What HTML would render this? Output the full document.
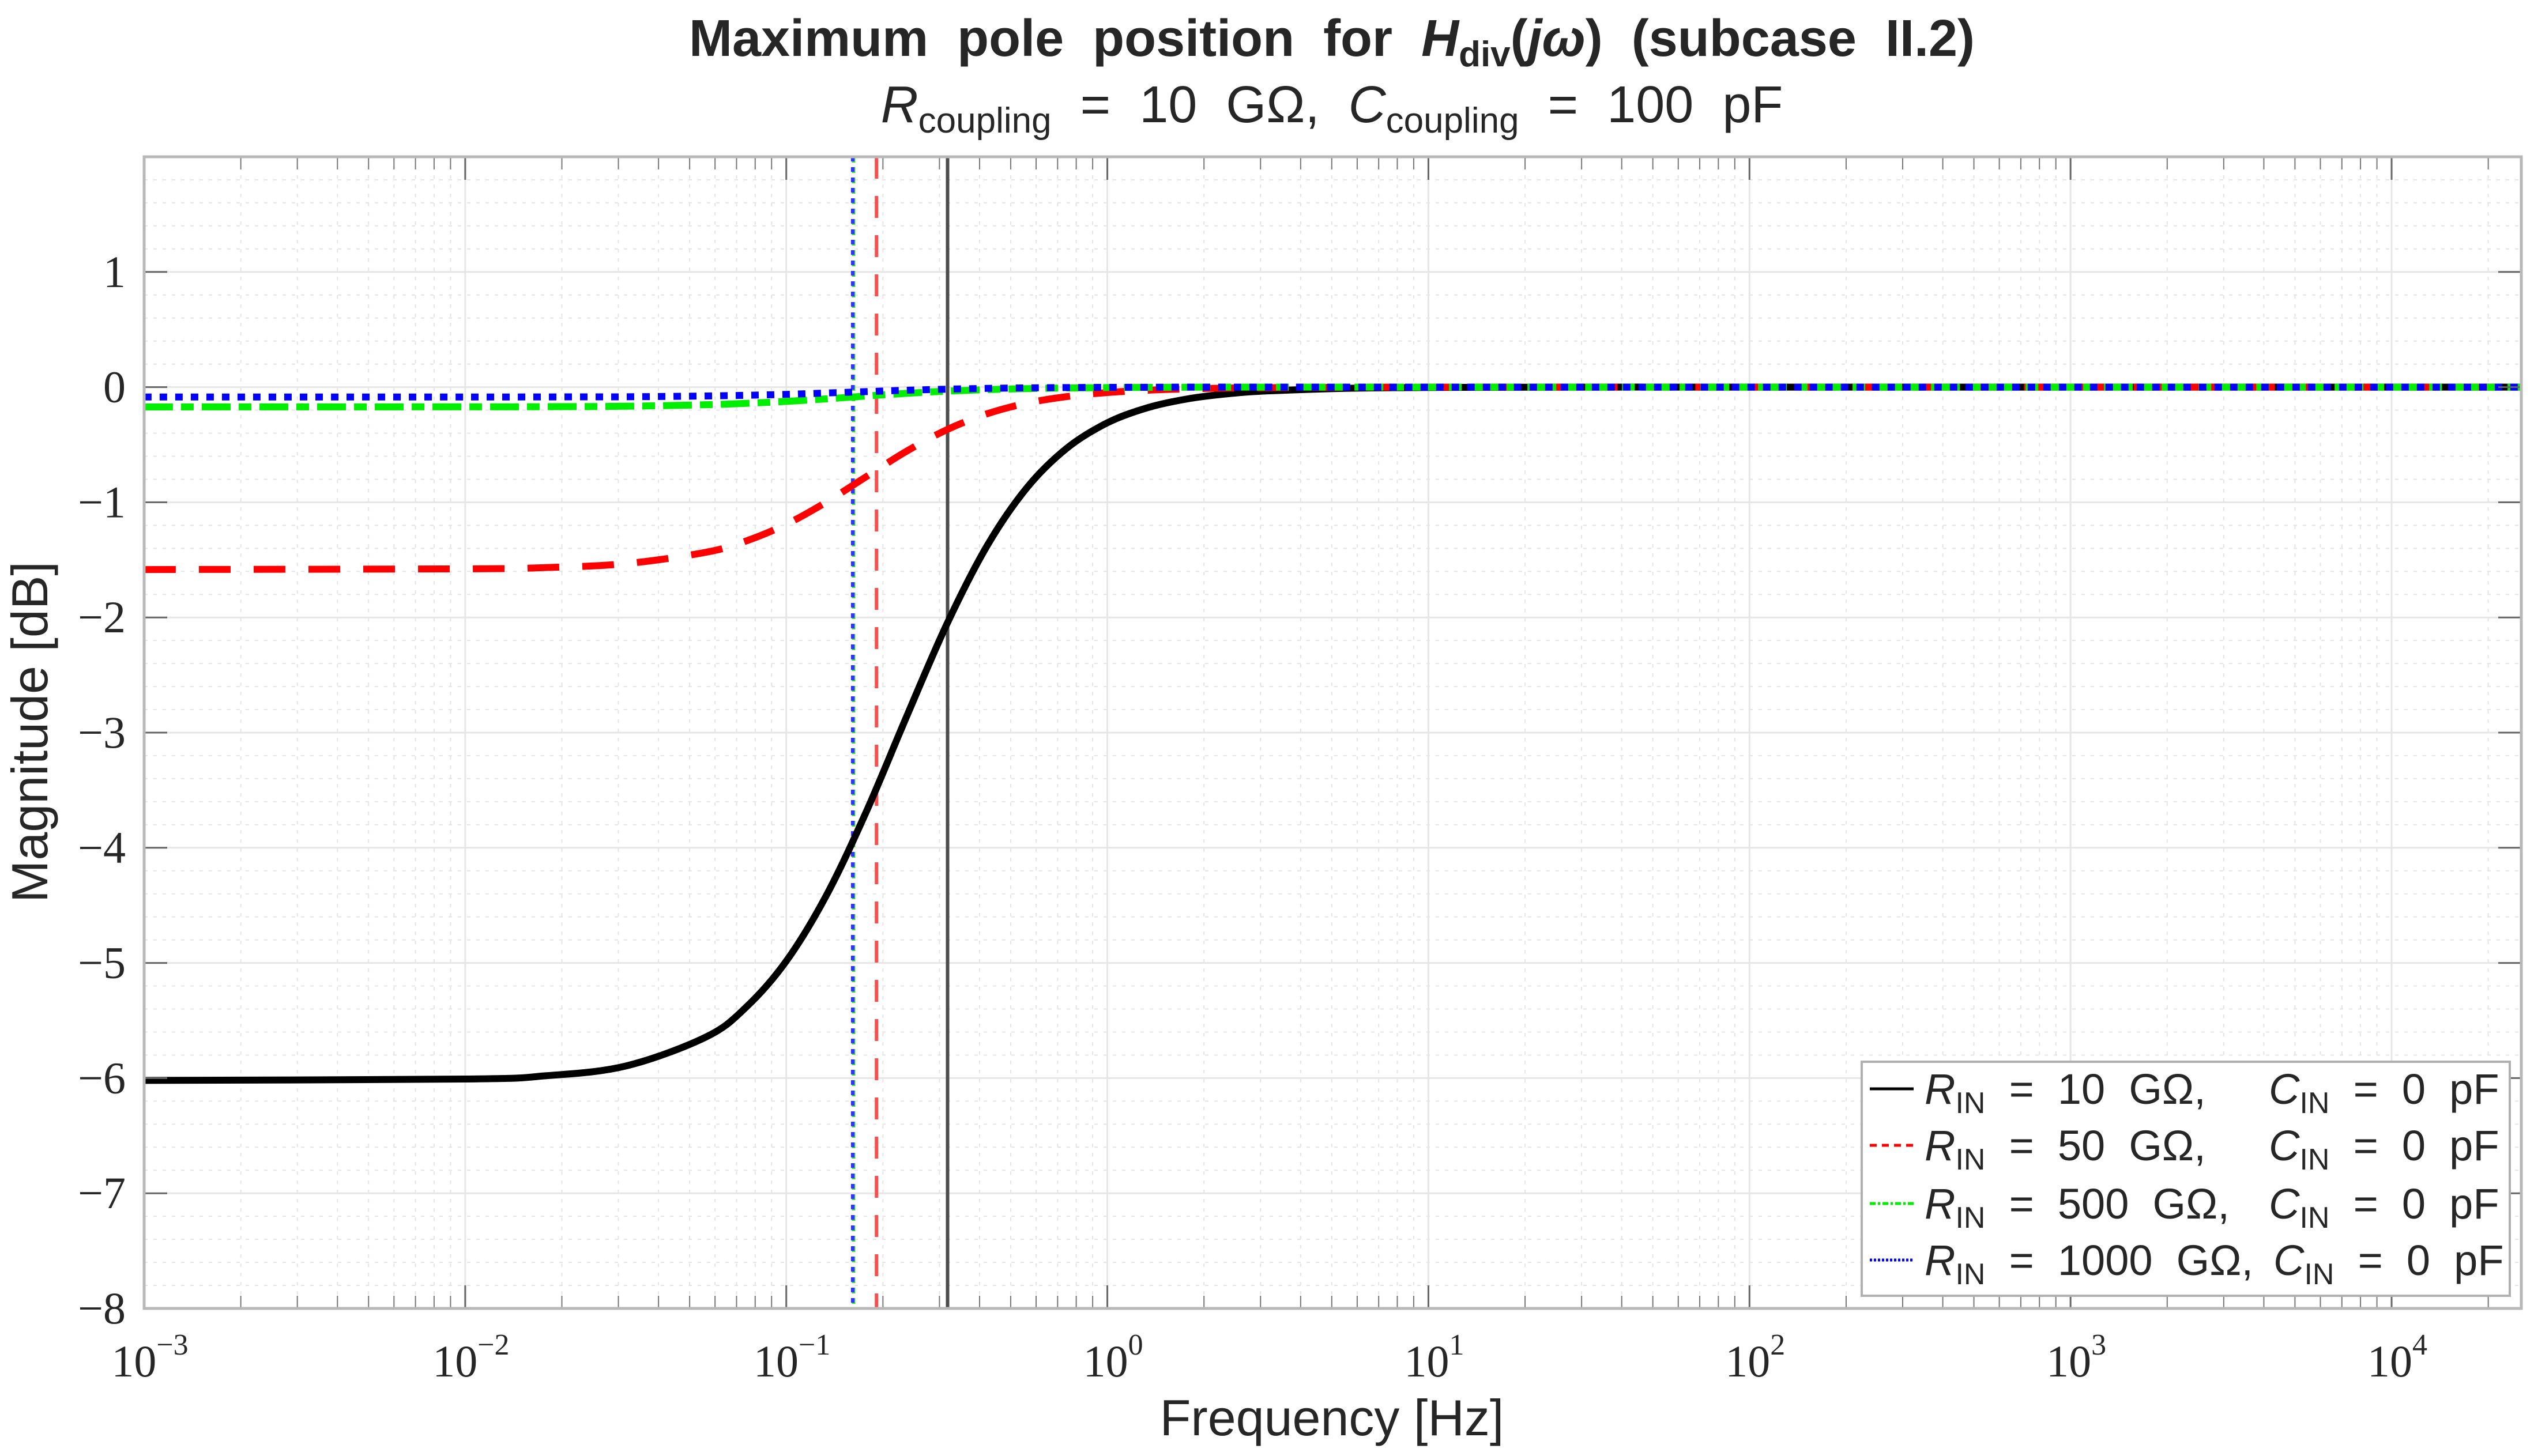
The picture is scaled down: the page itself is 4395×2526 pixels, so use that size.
<!DOCTYPE html>
<html><head><meta charset="utf-8">
<style>
html,body{margin:0;padding:0;background:#fff;}
svg{display:block;}
text{font-family:"Liberation Sans",sans-serif;fill:#262626;white-space:pre;}
.tick{font-family:"Liberation Serif",serif;font-size:78px;fill:#262626;}
</style></head>
<body>
<svg id="chart" width="4395" height="2526" viewBox="0 0 4395 2526" xmlns="http://www.w3.org/2000/svg">
<rect x="0" y="0" width="4395" height="2526" fill="#fff"/>
<g id="grid"></g>
<g id="vlines"></g>
<g id="series"></g>
<g id="axes"></g>
<text x="2310" y="97" text-anchor="middle" font-size="90" font-weight="bold">Maximum  pole  position  for  <tspan font-style="italic">H</tspan><tspan font-size="62" dy="18">div</tspan><tspan dy="-18">(</tspan><tspan font-style="italic">jω</tspan>)  (subcase  II.2)</text>
<text x="2310" y="212" text-anchor="middle" font-size="90"><tspan font-style="italic">R</tspan><tspan font-size="62" dy="18">coupling</tspan><tspan dy="-18">  =  10  GΩ,  </tspan><tspan font-style="italic">C</tspan><tspan font-size="62" dy="18">coupling</tspan><tspan dy="-18">  =  100  pF</tspan></text>
<text x="2310" y="2490" text-anchor="middle" font-size="88">Frequency [Hz]</text>
<text transform="translate(82,1270) rotate(-90)" text-anchor="middle" font-size="88">Magnitude [dB]</text>
<g id="legend"></g>
</svg>
<script>
// ---- data ----
const logFreq = [-3, -2, -1.75, -1.5, -1.25, -1.125, -1, -0.875, -0.75, -0.625, -0.5, -0.375, -0.25, -0.125, 0, 0.125, 0.25, 0.375, 0.5, 0.75, 1, 1.5, 2, 3, 4, 4.404];
const magBlack = [-6.02, -6.008, -5.980, -5.895, -5.643, -5.384, -4.984, -4.413, -3.682, -2.859, -2.059, -1.380, -0.872, -0.528, -0.310, -0.179, -0.102, -0.058, -0.033, -0.0104, -0.003, 0, 0, 0, 0, 0];
const magRed   = [-1.584, -1.578, -1.567, -1.533, -1.434, -1.336, -1.191, -0.998, -0.776, -0.556, -0.370, -0.232, -0.139, -0.082, -0.047, -0.027, -0.015, -0.0085, -0.005, -0.0015, 0, 0, 0, 0, 0, 0];
const magGreen = [-0.172, -0.171, -0.170, -0.166, -0.153, -0.141, -0.124, -0.102, -0.077, -0.054, -0.035, -0.022, -0.013, -0.0075, -0.004, -0.0025, -0.001, 0, 0, 0, 0, 0, 0, 0, 0, 0];
const magBlue  = [-0.086, -0.086, -0.085, -0.084, -0.077, -0.071, -0.063, -0.051, -0.039, -0.027, -0.018, -0.011, -0.0065, -0.0038, -0.002, -0.0012, 0, 0, 0, 0, 0, 0, 0, 0, 0, 0];
const poleFreq = [0.318, 0.191, 0.162, 0.161];
const seriesNames = ["10", "50", "500", "1000"];
const yTicks = [1, 0, -1, -2, -3, -4, -5, -6, -7, -8];
const xDecades = [-3, -2, -1, 0, 1, 2, 3, 4];

// ---- geometry ----
const L = 250, R = 4373, T = 272, B = 2270;
const xMinLog = -3, xMaxLog = 4.404, yMin = -8, yMax = 2;
const xs = lf => L + (lf - xMinLog) / (xMaxLog - xMinLog) * (R - L);
const ys = v => T + (yMax - v) / (yMax - yMin) * (B - T);
const NS = "http://www.w3.org/2000/svg";
function mk(tag, attrs, parent) {
  const e = document.createElementNS(NS, tag);
  for (const k in attrs) e.setAttribute(k, attrs[k]);
  parent.appendChild(e);
  return e;
}
const grid = document.getElementById('grid');
const axes = document.getElementById('axes');

for (let d = -3; d <= 4; d++) {
  for (let m = 2; m <= 9; m++) {
    const lf = d + Math.log10(m);
    if (lf > xMaxLog) continue;
    const x = xs(lf);
    const l = mk('line', {x1: x, x2: x, y1: T, y2: B, stroke: '#e4e4e4', 'stroke-width': 2, 'stroke-dasharray': '6 10'}, grid);
    
    
    [[B, B - 22], [T, T + 22]].forEach(p => {
      const t = mk('line', {x1: x, x2: x, y1: p[0], y2: p[1], stroke: '#777', 'stroke-width': 2}, axes);
      
      
    });
  }
}
for (let v = yMin; v < yMax; v += 0.2) {
  const y = ys(v);
  const l = mk('line', {x1: L, x2: R, y1: y, y2: y, stroke: '#e4e4e4', 'stroke-width': 2, 'stroke-dasharray': '6 10'}, grid);
  
  
}
xDecades.forEach(d => {
  const x = xs(d);
  const l = mk('line', {x1: x, x2: x, y1: T, y2: B, stroke: '#e6e6e6', 'stroke-width': 3}, grid);
  
  
  [[B, B - 40], [T, T + 40]].forEach(p => {
    const t = mk('line', {x1: x, x2: x, y1: p[0], y2: p[1], stroke: '#666', 'stroke-width': 3}, axes);
    
    
  });
  const tx = mk('text', {x: x + 10, y: 2388, 'text-anchor': 'middle', class: 'tick'}, axes);
  
  
  tx.innerHTML = '10<tspan font-size="52" dy="-38">' + (d < 0 ? '−' + (-d) : d) + '</tspan>';
});
yTicks.forEach(v => {
  const y = ys(v);
  const l = mk('line', {x1: L, x2: R, y1: y, y2: y, stroke: '#e6e6e6', 'stroke-width': 3}, grid);
  
  
  [[L, L + 40], [R, R - 40]].forEach(p => {
    const t = mk('line', {x1: p[0], x2: p[1], y1: y, y2: y, stroke: '#666', 'stroke-width': 3}, axes);
    
    
  });
  const tx = mk('text', {x: 218, y: y + 26, 'text-anchor': 'end', class: 'tick'}, axes);
  
  
  tx.textContent = v < 0 ? '−' + (-v) : String(v);
});
const box = mk('rect', {x: L, y: T, width: R - L, height: B - T, fill: 'none', stroke: '#b8b8b8', 'stroke-width': 5}, axes);



const vStyles = [
  {stroke: '#4d4d4d', w: 6, dash: ''},
  {stroke: '#ff4d4d', w: 6, dash: '38 30'},
  {stroke: '#33dd33', w: 6, dash: '10 8'},
  {stroke: '#3333ff', w: 6, dash: '8 10'}
];
const vg = document.getElementById('vlines');
poleFreq.forEach((f, i) => {
  const x = xs(Math.log10(f));
  const s = vStyles[i];
  const l = mk('line', {x1: x, x2: x, y1: T, y2: B, stroke: s.stroke, 'stroke-width': s.w}, vg);
  if (s.dash) l.setAttribute('stroke-dasharray', s.dash);
  
  
});

function pathFor(vals) {
  const p = logFreq.map((lf, i) => [xs(lf), ys(vals[i])]);
  let d = 'M' + p[0][0] + ',' + p[0][1];
  for (let i = 0; i < p.length - 1; i++) {
    const p0 = p[Math.max(0, i - 1)], p1 = p[i], p2 = p[i + 1], p3 = p[Math.min(p.length - 1, i + 2)];
    const c1 = [p1[0] + (p2[0] - p0[0]) / 6, p1[1] + (p2[1] - p0[1]) / 6];
    const c2 = [p2[0] - (p3[0] - p1[0]) / 6, p2[1] - (p3[1] - p1[1]) / 6];
    d += ' C' + c1.join(',') + ' ' + c2.join(',') + ' ' + p2.join(',');
  }
  return d;
}
const seriesVals = [magBlack, magRed, magGreen, magBlue];
const sStyles = [
  {stroke: '#000', w: 12, dash: ''},
  {stroke: '#ff0000', w: 12, dash: '55 40'},
  {stroke: '#00ee00', w: 12, dash: '50 14 22 14'},
  {stroke: '#0000ff', w: 12, dash: '13 14'}
];
const sg = document.getElementById('series');
seriesVals.forEach((vals, i) => {
  const s = sStyles[i];
  const p = mk('path', {d: pathFor(vals), fill: 'none', stroke: s.stroke, 'stroke-width': s.w}, sg);
  if (s.dash) p.setAttribute('stroke-dasharray', s.dash);
  
  
});

const lg = document.getElementById('legend');
const lbox = mk('rect', {x: 3229, y: 1842, width: 1124, height: 406, fill: '#fff', stroke: '#b0b0b0', 'stroke-width': 4}, lg);


const rowY = [1889, 1987, 2088, 2186];
const legStyles = [
  {stroke: '#000', w: 5, dash: ''},
  {stroke: '#ff0000', w: 5, dash: '12 9'},
  {stroke: '#00ee00', w: 5, dash: '10 4 4 4'},
  {stroke: '#0000ff', w: 5, dash: '4 3'}
];
seriesNames.forEach((nm, i) => {
  const y = rowY[i];
  const st = legStyles[i];
  const ln = mk('line', {x1: 3243, x2: 3319, y1: y, y2: y, stroke: st.stroke, 'stroke-width': st.w}, lg);
  if (st.dash) ln.setAttribute('stroke-dasharray', st.dash);
  
  
  const t1 = mk('text', {x: 3338, y: y + 26, 'font-size': 74}, lg);
  
  
  t1.innerHTML = '<tspan font-style="italic">R</tspan><tspan font-size="52" dy="16">IN</tspan><tspan dy="-16">  =  ' + nm + '  GΩ,</tspan>';
  const t2 = mk('text', {x: i === 3 ? 3943 : 3935, y: y + 26, 'font-size': 74}, lg);
  
  
  t2.innerHTML = '<tspan font-style="italic">C</tspan><tspan font-size="52" dy="16">IN</tspan><tspan dy="-16">  =  0  pF</tspan>';
});
</script>
</body></html>
